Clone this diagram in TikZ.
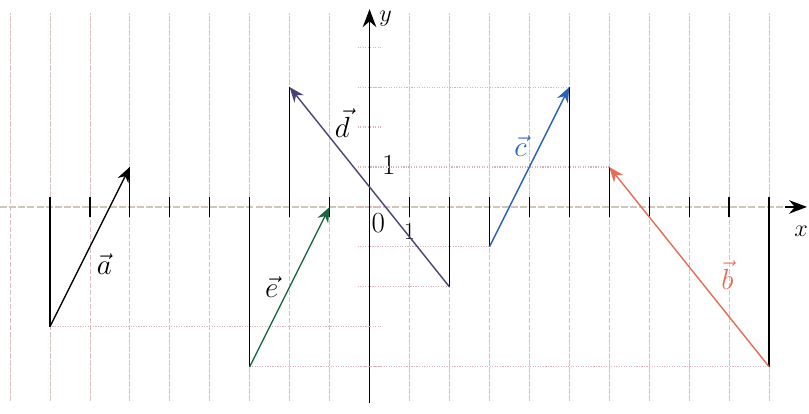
\documentclass[tikz,border=0pt]{standalone}
\usepackage{tikz}
\usetikzlibrary{arrows.meta}
\definecolor{gridc}{HTML}{D8C2C2}
\definecolor{dotc}{HTML}{D6B4B8}
\definecolor{axisc}{HTML}{CFC6BE}
\definecolor{green}{HTML}{1E6642}
\definecolor{purple}{HTML}{4A4272}
\definecolor{blue}{HTML}{2D62B0}
\definecolor{red}{HTML}{E46F58}

\begin{document}
\begin{tikzpicture}[>=Stealth,vec/.style={line width=1pt,-{Stealth[length=3.8mm,width=3mm]}},comp/.style={black,line width=0.9pt},hint/.style={dotc,densely dotted,line width=0.8pt},lbl/.style={font=\huge,inner sep=1pt}]
\useasboundingbox (-9.25,-5.18) rectangle (11,5.18);
\coordinate (O) at (0,0);
% grid and axes
\foreach \x in {-9,...,10} \draw[gridc,dash pattern=on 4pt off 1pt,line width=0.5pt] (\x,-4.85)--(\x,4.85);
\coordinate (xs) at (-9.25,0);
\coordinate (xa) at (10.4,0);
\coordinate (xe) at (10.95,0);
\draw[axisc,line width=1.4pt,dash pattern=on 5pt off 1.5pt] (xs)--(xa);
\draw[black,line width=1pt,-{Stealth[length=4.5mm,width=3.4mm]}] (xa)--(xe);
\foreach \x in {-8,...,10} \draw[black,line width=0.9pt] (\x,-0.25)--(\x,0.25);
\foreach \y in {-4,...,4} \draw[hint] (-0.3,\y)--(0.3,\y);
\coordinate (ys) at (0,-4.9);
\coordinate (ye) at (0,4.95);
\draw[black,line width=1pt,-{Stealth[length=4.5mm,width=3.4mm]}] (ys)--(ye);
\node[font=\LARGE] (xl) at (10.8,-0.62) {$x$};
\node[font=\LARGE] (yl) at (0.4,4.72) {$y$};
\node[lbl] (o) at (0.22,-0.4) {$0$};
\node[lbl] (one) at (0.48,1.05) {$1$};
\node[font=\LARGE] (onex) at (1,-0.62) {$1$};
% end points of the vectors
\coordinate (a0) at (-8,-3); \coordinate (a1) at (-6,1);
\coordinate (e0) at (-3,-4); \coordinate (e1) at (-1,0);
\coordinate (d0) at (2,-2);  \coordinate (d1) at (-2,3);
\coordinate (c0) at (3,-1);  \coordinate (c1) at (5,3);
\coordinate (b0) at (10,-4); \coordinate (b1) at (6,1);
% projections
\draw[hint] (a0)--(a0 -| O);
\draw[hint] (e0)--(b0);
\draw[hint] (d0)--(d0 -| O);
\draw[hint] (c0)--(c0 -| O);
\draw[hint] (c1)--(c1 -| O);
\draw[hint] (b1)--(b1 -| O);
\foreach \p in {a0,a1,e0,d0,d1,c0,c1,b0,b1} \draw[comp] (\p)--(\p |- O);
% vectors
\draw[vec,black] (a0)--node[pos=.39,xshift=.58cm,lbl]{$\vec a$}(a1);
\draw[vec,green] (e0)--node[pos=.5,xshift=-.45cm,lbl,black]{$\vec e$}(e1);
\draw[vec,purple] (d0)--node[pos=.82,xshift=.6cm,lbl,black]{$\vec d$}(d1);
\draw[vec,blue] (c0)--node[pos=.63,xshift=-.48cm,lbl]{$\vec c$}(c1);
\draw[vec,red] (b0)--node[pos=.46,xshift=.8cm,lbl]{$\vec b$}(b1);
\end{tikzpicture}
\end{document}
